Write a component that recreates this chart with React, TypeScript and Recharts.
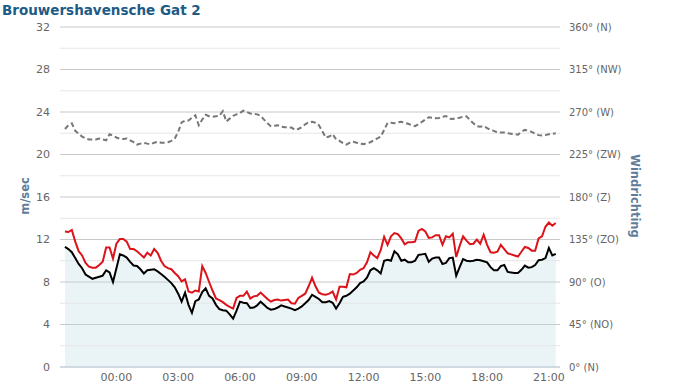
import { ComposedChart, Area, Line, XAxis, YAxis, CartesianGrid, ReferenceLine } from 'recharts';

// 10-minute measurements, first one at 21:30 the evening before (hours relative to midnight)
const firstHour = -2.5;
const stepHours = 1 / 6;

// average wind speed (m/sec)
const windSpeed = [
  11.3, 11.1, 10.8, 10.25, 9.7, 9.3, 8.7, 8.5, 8.3, 8.4, 8.5, 8.6, 9.1, 8.9, 8.0, 9.3,
  10.6, 10.5, 10.3, 9.9, 9.55, 9.5, 9.2, 8.8, 9.1, 9.15, 9.2, 9.0, 8.75, 8.5, 8.2, 7.9,
  7.5, 6.9, 6.15, 7.0, 5.85, 5.1, 6.2, 6.35, 7.05, 7.4, 6.7, 6.45, 5.85, 5.45, 5.35, 5.3,
  4.95, 4.55, 5.3, 6.15, 6.05, 6.0, 5.55, 5.6, 5.8, 6.15, 5.85, 5.55, 5.4, 5.45, 5.6, 5.8,
  5.7, 5.6, 5.5, 5.35, 5.5, 5.7, 6.0, 6.3, 6.8, 6.6, 6.4, 6.1, 6.1, 6.2, 6.05, 5.5,
  6.0, 6.6, 6.7, 6.9, 7.2, 7.5, 7.9, 8.05, 8.4, 9.1, 9.3, 9.1, 8.8, 10.0, 10.1, 10.0,
  10.9, 10.6, 10.0, 10.1, 9.85, 9.85, 10.0, 10.55, 10.6, 10.65, 9.9, 10.2, 10.3, 10.3, 9.7, 9.8,
  10.25, 10.3, 8.6, 9.4, 10.15, 10.0, 9.95, 10.0, 10.1, 10.05, 9.95, 9.85, 9.4, 9.1, 9.1, 9.5,
  9.6, 8.95, 8.9, 8.85, 8.85, 9.15, 9.55, 9.35, 9.4, 9.6, 10.05, 10.1, 10.25, 11.2, 10.5, 10.65,
];

// maximum gust (m/sec)
const windGust = [
  12.75, 12.7, 12.9, 11.8, 10.9, 10.5, 9.8, 9.45, 9.35, 9.35, 9.6, 9.9, 11.25, 11.25, 10.2, 11.6,
  12.05, 12.05, 11.8, 11.1, 11.1, 10.9, 10.6, 10.3, 10.75, 10.5, 11.1, 10.75, 10.0, 9.5, 9.3, 9.2,
  8.85, 8.55, 8.05, 8.25, 7.1, 7.0, 7.2, 7.1, 9.5, 8.85, 8.0, 7.2, 6.45, 6.3, 6.1, 5.85,
  5.65, 5.5, 6.5, 6.7, 6.7, 7.1, 6.45, 6.65, 6.7, 7.0, 6.7, 6.4, 6.15, 6.3, 6.35, 6.25,
  6.3, 6.35, 6.0, 5.95, 6.5, 6.7, 6.9, 7.6, 8.4, 7.6, 7.0, 6.85, 6.8, 6.9, 7.1, 6.35,
  7.55, 7.55, 7.5, 8.75, 8.7, 8.85, 9.15, 9.3, 9.85, 10.8, 10.5, 10.25, 11.0, 12.25, 11.5, 12.3,
  12.6, 12.5, 12.1, 11.55, 11.75, 11.75, 11.8, 12.8, 13.0, 12.75, 12.15, 12.2, 12.4, 12.4, 11.5, 12.3,
  12.2, 12.55, 10.35, 11.4, 12.3, 11.9, 11.55, 11.6, 12.0, 11.6, 12.45, 11.5, 10.8, 10.75, 10.85, 11.5,
  11.1, 10.7, 10.6, 10.5, 10.4, 10.85, 11.3, 11.2, 10.95, 10.95, 12.1, 12.3, 13.2, 13.6, 13.3, 13.55,
];

// wind direction (degrees)
const windDir = [
  252, 256, 258, 250, 247, 244, 242, 241, 241, 241, 242, 241, 240, 246.5, 245, 243,
  241.5, 241.5, 242, 240, 238, 235.5, 236.5, 237.3, 236.5, 236, 237.5, 238.5, 237.5, 237.5, 238, 239.5,
  242, 249, 259, 261, 261, 264, 266.5, 256, 262, 267, 265.5, 265, 265.5, 266, 271, 260,
  263, 266, 267.5, 269, 271.5, 270, 268.5, 268, 267.5, 266, 262, 258, 255, 255.5, 256, 254.5,
  253.8, 253.8, 253.5, 251, 252, 254, 257, 259, 259.7, 258.7, 256, 249.5, 243, 244, 246.5, 241,
  239.5, 237, 235.5, 237.5, 238.5, 237.5, 236.5, 236, 237, 238, 240, 242, 243.8, 251, 258.5, 258.5,
  258, 259, 259.7, 258.5, 257.5, 256, 255, 257, 259.5, 262, 264.4, 264, 263.5, 263.7, 265, 265.8,
  263, 262.5, 263.5, 264, 265, 265.5, 261.5, 258, 255, 254.5, 255, 253, 251, 250, 248.3, 248.3,
  248.3, 247.5, 247, 246.5, 246, 249, 251, 250, 249, 247, 245.5, 245, 245.5, 246.5, 247, 247.4,
];

const hourTicks = [0, 3, 6, 9, 12, 15, 18, 21];
const hourLabels = ['00:00', '03:00', '06:00', '09:00', '12:00', '15:00', '18:00', '21:00'];
const speedTicks = [0, 4, 8, 12, 16, 20, 24, 28, 32];
const speedMinor = [2, 6, 10, 14, 18, 22, 26, 30];
const dirTicks = [0, 45, 90, 135, 180, 225, 270, 315, 360];
const dirLabels = ['0° (N)', '45° (NO)', '90° (O)', '135° (ZO)', '180° (Z)', '225° (ZW)', '270° (W)', '315° (NW)', '360° (N)'];

const data = windSpeed.map((v, i) => ({
  t: firstHour + i * stepHours,
  speed: v,
  gust: windGust[i],
  dir: windDir[i],
}));

const font = 'DejaVu Sans, Verdana, sans-serif';
const axisTitle = {
  position: 'absolute' as const,
  fontSize: 11.5,
  fontWeight: 'bold' as const,
  color: '#5f7d9b',
  whiteSpace: 'nowrap' as const,
  fontFamily: font,
};

export default function App() {
  return (
    <div style={{ position: 'absolute', left: 0, top: 0, width: 700, height: 391, background: '#fff', fontFamily: font }}>
      <ComposedChart width={700} height={391} data={data} margin={{ top: 27, right: 0, bottom: 0, left: 0 }}>
        <CartesianGrid vertical={false} stroke="#c8c8c8" />
        {speedMinor.map((v) => (
          <ReferenceLine key={v} y={v} stroke="#e6e6e6" />
        ))}
        <XAxis
          type="number"
          dataKey="t"
          domain={[-2.74, 21.54]}
          allowDataOverflow
          ticks={hourTicks}
          interval={0}
          tickFormatter={(v) => hourLabels[hourTicks.indexOf(v)]}
          height={24}
          tickLine={false}
          axisLine={{ stroke: '#c0d0e0' }}
          tickMargin={0}
          tick={{ fill: '#666', fontSize: 11, fontFamily: font }}
        />
        <YAxis
          width={60}
          domain={[0, 32]}
          ticks={speedTicks}
          interval={0}
          tickLine={false}
          axisLine={false}
          tickMargin={4}
          tick={{ fill: '#666', fontSize: 11, fontFamily: font }}
        />
        <YAxis
          yAxisId="dir"
          orientation="right"
          width={140}
          domain={[0, 360]}
          ticks={dirTicks}
          interval={0}
          tickFormatter={(v) => dirLabels[dirTicks.indexOf(v)]}
          tickLine={false}
          axisLine={false}
          tickMargin={3}
          tick={{ fill: '#666', fontSize: 10, fontFamily: font }}
        />
        <Area
          type="linear"
          dataKey="speed"
          stroke="none"
          fill="#b8dbe6"
          fillOpacity={0.3}
          dot={false}
          activeDot={false}
          isAnimationActive={false}
        />
        <Line type="linear" dataKey="gust" stroke="#dc1318" strokeWidth={2} dot={false} activeDot={false} isAnimationActive={false} />
        <Line type="linear" dataKey="speed" stroke="#000" strokeWidth={2} dot={false} activeDot={false} isAnimationActive={false} />
        <Line
          type="linear"
          dataKey="dir"
          yAxisId="dir"
          stroke="#777"
          strokeWidth={2}
          strokeDasharray="5 3"
          dot={false}
          activeDot={false}
          isAnimationActive={false}
        />
      </ComposedChart>
      <div style={{ position: 'absolute', left: 2, top: 2, fontSize: 13.5, fontWeight: 'bold', color: '#1d5b87', whiteSpace: 'nowrap' }}>
        Brouwershavensche Gat 2
      </div>
      <div style={{ ...axisTitle, left: 25, top: 196, transform: 'translate(-50%, -50%) rotate(-90deg)' }}>m/sec</div>
      <div style={{ ...axisTitle, left: 635, top: 196, transform: 'translate(-50%, -50%) rotate(90deg)' }}>Windrichting</div>
    </div>
  );
}
